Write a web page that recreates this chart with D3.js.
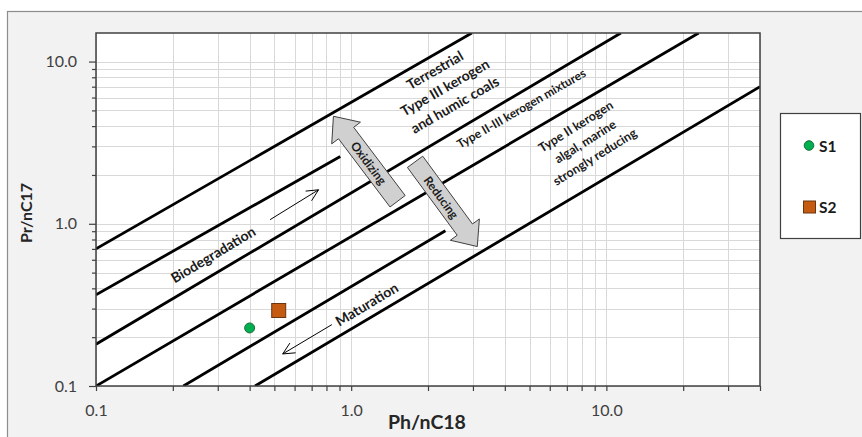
<!DOCTYPE html>
<html>
<head>
<meta charset="utf-8">
<script src="https://cdn.jsdelivr.net/npm/d3@7"></script>
<style>
  body { margin: 0; background: #fff; }
  svg { display: block; font-family: Lato, "Open Sans", sans-serif; }
</style>
</head>
<body>
<svg id="chart" width="862" height="437"></svg>
<script>
// tick values / labels
var xMajor = [0.1, 1, 10];
var xMajorLabels = ["0.1", "1.0", "10.0"];
var yMajor = [0.1, 1, 10];
var yMajorLabels = ["0.1", "1.0", "10.0"];

// samples
var sampleNames = ["S1", "S2"];
var phC18 = [0.40, 0.52];
var prC17 = [0.228, 0.292];

// boundary lines [Ph/nC18, Pr/nC17] start -> end
var lineStarts = [[0.1, 0.70], [0.1, 0.365], [0.1, 0.181], [0.1, 0.1], [0.22, 0.1], [0.42, 0.1]];
var lineEnds = [[2.97, 15], [0.906, 2.6], [11.4, 15], [23, 15], [2.34, 0.906], [40, 7.0]];

// block arrows (tail -> tip)
var blockNames = ["Oxidizing", "Reducing"];
var blockTails = [[1.52, 1.377], [1.78, 2.41]];
var blockTips = [[0.852, 4.60], [3.12, 0.724]];

// thin arrows (tail -> tip)
var thinTails = [[0.481, 1.06], [0.84, 0.239]];
var thinTips = [[0.745, 1.62], [0.539, 0.1576]];

(function() {
var svg = d3.select("#chart");
var W = 862, H = 437;
var pLeft = 96, pRight = 760, pTop = 33, pBottom = 386;

var x = d3.scaleLog().domain([0.1, 40]).range([pLeft, pRight]);
var y = d3.scaleLog().domain([0.1, 15]).range([pBottom, pTop]);

// outer frame
svg.append("rect").attr("x", 7.5).attr("y", 11.5).attr("width", W).attr("height", H)
  .attr("fill", "#f2f2f2").attr("stroke", "#8c8c8c").attr("stroke-width", 1.2);

// plot area
svg.append("rect").attr("x", pLeft).attr("y", pTop).attr("width", pRight - pLeft).attr("height", pBottom - pTop)
  .attr("fill", "#fff");

// minor + major values for grid
var xAll = [], yAll = [];
[0.1, 1, 10].forEach(function(d) {
  for (var k = 1; k <= 9; k++) {
    var v = +(d * k).toPrecision(3);
    if (v <= 40) xAll.push(v);
    if (v <= 10) yAll.push(v);
  }
});

var grid = svg.append("g").attr("stroke", "#d9d9d9").attr("stroke-width", 1);
grid.selectAll(".gx").data(xAll).join("line")
  .attr("x1", function(d) { return Math.round(x(d)) + 0.5; })
  .attr("x2", function(d) { return Math.round(x(d)) + 0.5; })
  .attr("y1", pTop).attr("y2", pBottom);
grid.selectAll(".gy").data(yAll).join("line")
  .attr("y1", function(d) { return Math.round(y(d)) + 0.5; })
  .attr("y2", function(d) { return Math.round(y(d)) + 0.5; })
  .attr("x1", pLeft).attr("x2", pRight);

// clip for lines
svg.append("clipPath").attr("id", "clip").append("rect")
  .attr("x", pLeft).attr("y", pTop).attr("width", pRight - pLeft).attr("height", pBottom - pTop);

var plot = svg.append("g").attr("clip-path", "url(#clip)");

// boundary lines
plot.selectAll(".bl").data(d3.range(lineStarts.length)).join("line")
  .attr("x1", function(i) { return x(lineStarts[i][0]); })
  .attr("y1", function(i) { return y(lineStarts[i][1]); })
  .attr("x2", function(i) { return x(lineEnds[i][0]); })
  .attr("y2", function(i) { return y(lineEnds[i][1]); })
  .attr("stroke", "#000").attr("stroke-width", 2.8).attr("stroke-linecap", "butt");

// block arrows
function blockArrow(t, p, w, hw, hl) {
  var dx = p[0] - t[0], dy = p[1] - t[1], L = Math.hypot(dx, dy);
  var ux = dx / L, uy = dy / L, nx = -uy, ny = ux;
  var bx = p[0] - ux * hl, by = p[1] - uy * hl;
  return [
    [t[0] + nx * w, t[1] + ny * w],
    [bx + nx * w, by + ny * w],
    [bx + nx * hw, by + ny * hw],
    [p[0], p[1]],
    [bx - nx * hw, by - ny * hw],
    [bx - nx * w, by - ny * w],
    [t[0] - nx * w, t[1] - ny * w]
  ];
}

blockNames.forEach(function(name, i) {
  var t = [x(blockTails[i][0]), y(blockTails[i][1])];
  var p = [x(blockTips[i][0]), y(blockTips[i][1])];
  var pts = blockArrow(t, p, 9.5, 18, 21);
  svg.append("path").attr("d", "M" + pts.join("L") + "Z")
    .attr("fill", "#d0d0d0").attr("stroke", "#404040").attr("stroke-width", 1);
  // text centered on the shaft
  var f = i === 0 ? 0.45 : 0.42;
  var cx = t[0] + (p[0] - t[0]) * f, cy = t[1] + (p[1] - t[1]) * f;
  var ang = Math.atan2(t[1] - p[1], t[0] - p[0]) * 180 / Math.PI;
  if (i === 1) ang = Math.atan2(p[1] - t[1], p[0] - t[0]) * 180 / Math.PI;
  svg.append("text").attr("transform", "translate(" + cx + "," + cy + ") rotate(" + ang + ")")
    .attr("text-anchor", "middle").attr("dominant-baseline", "central")
    .attr("font-size", 12).attr("font-weight", "bold").attr("fill", "#1a1a1a")
    .text(name);
});

// thin arrows
thinTails.forEach(function(tl, i) {
  var t = [x(tl[0]), y(tl[1])], p = [x(thinTips[i][0]), y(thinTips[i][1])];
  var a = Math.atan2(t[1] - p[1], t[0] - p[0]);
  var g = svg.append("g").attr("stroke", "#000").attr("stroke-width", 1).attr("fill", "none");
  g.append("line").attr("x1", t[0]).attr("y1", t[1]).attr("x2", p[0]).attr("y2", p[1]);
  [-0.45, 0.45].forEach(function(s) {
    g.append("line").attr("x1", p[0]).attr("y1", p[1])
      .attr("x2", p[0] + 13 * Math.cos(a + s)).attr("y2", p[1] + 13 * Math.sin(a + s));
  });
});

// rotated labels
function rotLabel(lines, px, py, ang, size, gap) {
  var t = svg.append("text")
    .attr("transform", "translate(" + x(px) + "," + y(py) + ") rotate(" + ang + ")")
    .attr("text-anchor", "middle").attr("font-size", size).attr("font-weight", "bold")
    .attr("fill", "#1a1a1a");
  var off = -(lines.length - 1) / 2 * gap;
  lines.forEach(function(s, k) {
    t.append("tspan").attr("x", 0).attr("y", off + k * gap).attr("dy", "0.35em").text(s);
  });
}
rotLabel(["Biodegradation"], 0.288, 0.644, -31, 14, 0);
rotLabel(["Maturation"], 1.152, 0.318, -31, 14, 0);
rotLabel(["Terrestrial", "Type III kerogen", "and humic coals"], 2.33, 6.91, -30, 14, 20);
rotLabel(["Type II-III kerogen mixtures"], 4.64, 5.13, -30, 12, 0);
rotLabel(["Type II kerogen", "algal, marine", "strongly reducing"], 8.27, 3.21, -32, 12.5, 18);

// sample points
svg.append("circle").attr("cx", x(phC18[0])).attr("cy", y(prC17[0])).attr("r", 5)
  .attr("fill", "#00b050").attr("stroke", "#1f6b3a").attr("stroke-width", 1);
svg.append("rect").attr("x", x(phC18[1]) - 7).attr("y", y(prC17[1]) - 7)
  .attr("width", 14).attr("height", 14)
  .attr("fill", "#c55a11").attr("stroke", "#6b3510").attr("stroke-width", 1);

// axes
var fmtX = function(d) { var k = xMajor.indexOf(d); return k >= 0 ? xMajorLabels[k] : ""; };
var fmtY = function(d) { var k = yMajor.indexOf(d); return k >= 0 ? yMajorLabels[k] : ""; };

var gx = svg.append("g").attr("transform", "translate(0," + pBottom + ")")
  .call(d3.axisBottom(x).tickValues(xAll).tickFormat(fmtX).tickSize(5).tickPadding(14));
var gy = svg.append("g").attr("transform", "translate(" + pLeft + ",0)")
  .call(d3.axisLeft(y).tickValues(yAll).tickFormat(fmtY).tickSize(4).tickPadding(15));

[gx, gy].forEach(function(g) {
  g.select(".domain").remove();
  g.selectAll(".tick line").attr("stroke", "#404040").attr("stroke-width", 1.2);
  g.selectAll(".tick text").attr("font-size", 16).attr("fill", "#404040")
    .attr("font-family", "Lato, 'Open Sans', sans-serif");
});
gy.selectAll(".tick line").filter(function(d) { return yMajor.indexOf(d) >= 0; }).attr("x2", -7);

// plot border
svg.append("rect").attr("x", pLeft).attr("y", pTop).attr("width", pRight - pLeft).attr("height", pBottom - pTop)
  .attr("fill", "none").attr("stroke", "#404040").attr("stroke-width", 1.5);

// axis titles
svg.append("text").attr("x", 427).attr("y", 421).attr("text-anchor", "middle")
  .attr("dominant-baseline", "central").attr("font-size", 19.5).attr("font-weight", "bold")
  .attr("fill", "#262626").text("Ph/nC18");
svg.append("text").attr("transform", "translate(25.5,213) rotate(-90)").attr("text-anchor", "middle")
  .attr("dominant-baseline", "central").attr("font-size", 16).attr("font-weight", "bold")
  .attr("fill", "#262626").text("Pr/nC17");

// legend
var lg = svg.append("g");
lg.append("rect").attr("x", 780.5).attr("y", 113.5).attr("width", 80).attr("height", 125)
  .attr("fill", "#fff").attr("stroke", "#404040").attr("stroke-width", 1.2);
lg.append("circle").attr("cx", 809).attr("cy", 145.5).attr("r", 4.8)
  .attr("fill", "#00b050").attr("stroke", "#1f6b3a").attr("stroke-width", 1);
lg.append("rect").attr("x", 803.5).attr("y", 201).attr("width", 12).attr("height", 12)
  .attr("fill", "#c55a11").attr("stroke", "#6b3510").attr("stroke-width", 1);
lg.selectAll(".lt").data(sampleNames).join("text")
  .attr("x", 819).attr("y", function(d, i) { return i === 0 ? 145.5 : 207; })
  .attr("dominant-baseline", "central").attr("font-size", 15.5).attr("font-weight", "bold")
  .attr("fill", "#1a1a1a").text(function(d) { return d; });
})();
</script>
</body>
</html>
